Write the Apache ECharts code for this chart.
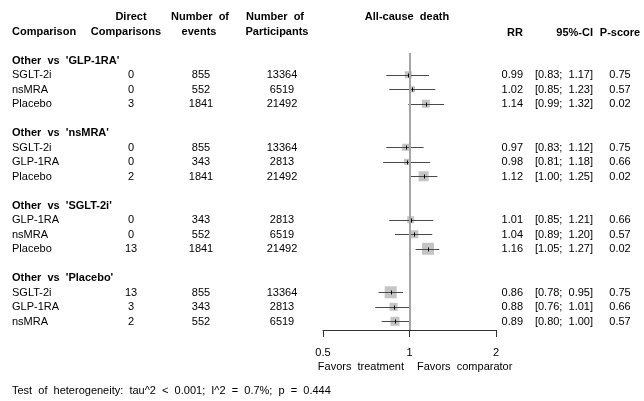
<!DOCTYPE html>
<html>
<head>
<meta charset="utf-8">
<script src="https://cdn.jsdelivr.net/npm/echarts@6/dist/echarts.min.js"></script>
<style>
html,body{margin:0;padding:0;background:#fff;}
#chart{width:644px;height:401px;}
</style>
</head>
<body>
<div id="chart"></div>
<script>
// ---------- DATA ----------
const referenceGroups = ["GLP-1RA", "nsMRA", "SGLT-2i", "Placebo"];
const comparedTreatments = [
  ["SGLT-2i", "nsMRA", "Placebo"],
  ["SGLT-2i", "GLP-1RA", "Placebo"],
  ["GLP-1RA", "nsMRA", "Placebo"],
  ["SGLT-2i", "GLP-1RA", "nsMRA"]
];
const directComparisons = [0, 0, 3, 0, 0, 2, 0, 0, 13, 13, 3, 2];
const numberOfEvents = [855, 552, 1841, 855, 343, 1841, 343, 552, 1841, 855, 343, 552];
const numberOfParticipants = [13364, 6519, 21492, 13364, 2813, 21492, 2813, 6519, 21492, 13364, 2813, 6519];
const rr = [0.99, 1.02, 1.14, 0.97, 0.98, 1.12, 1.01, 1.04, 1.16, 0.86, 0.88, 0.89];
const ciLower = [0.83, 0.85, 0.99, 0.83, 0.81, 1.00, 0.85, 0.89, 1.05, 0.78, 0.76, 0.80];
const ciUpper = [1.17, 1.23, 1.32, 1.12, 1.18, 1.25, 1.21, 1.20, 1.27, 0.95, 1.01, 1.00];
const pScore = [0.75, 0.57, 0.02, 0.75, 0.66, 0.02, 0.66, 0.57, 0.02, 0.75, 0.66, 0.57];
const studyWeight = [7, 6, 8, 7, 6, 10, 7, 8, 12, 12, 8, 9];
const xTickValues = [0.5, 1, 2];
const title = "All-cause death";
const heterogeneityText = "Test of heterogeneity: tau^2 < 0.001; I^2 = 0.7%; p = 0.444";

// ---------- LAYOUT ----------
const FONT = '"Liberation Sans", Arial, sans-serif';
const FS = 11;
// the reference renders word spaces wider than the font's own space
const wide = s => s.replace(/ /g, '  ');

const rows = [];
rows.push({idx: -3, type: 'head1'});
rows.push({idx: -2, type: 'head2'});
let k = 0;
referenceGroups.forEach((g, gi) => {
  const base = gi * 5;
  rows.push({idx: base, type: 'group', label: "Other vs '" + g + "'"});
  comparedTreatments[gi].forEach((t, ti) => {
    rows.push({idx: base + 1 + ti, type: 'data', label: t, k: k});
    k++;
  });
});

const forestData = [];
k = 0;
referenceGroups.forEach((g, gi) => {
  comparedTreatments[gi].forEach((t, ti) => {
    forestData.push([rr[k], ciLower[k], ciUpper[k], gi * 5 + 1 + ti, studyWeight[k]]);
    k++;
  });
});

function txt(x, y, s, align, bold) {
  return {
    type: 'text',
    style: {
      x: x, y: y, text: wide(s), fill: '#000',
      font: (bold ? 'bold ' : '') + FS + 'px ' + FONT,
      align: align, verticalAlign: 'middle'
    }
  };
}

const chart = echarts.init(document.getElementById('chart'), null, {renderer: 'canvas'});
chart.setOption({
  animation: false,
  backgroundColor: '#fff',
  grid: {left: 323, right: 148, top: 53, bottom: 71, containLabel: false},
  xAxis: {
    type: 'log', logBase: 2, min: 0.5, max: 2,
    axisLine: {show: true, onZero: false, lineStyle: {color: '#333', width: 1}},
    axisTick: {show: true, length: 7, lineStyle: {color: '#333'}},
    axisLabel: {
      margin: 17, color: '#000', fontSize: FS, fontFamily: FONT,
      formatter: v => {
        const m = xTickValues.find(t => Math.abs(t - v) < 1e-6);
        return m === undefined ? '' : String(m);
      }
    },
    splitLine: {show: false}
  },
  yAxis: {
    type: 'value', inverse: true, min: -0.5, max: 18.6, show: false
  },
  graphic: [
    {type: 'text', left: 12, top: 385, style: {text: wide(heterogeneityText), fill: '#000', font: FS + 'px ' + FONT}},
    {type: 'text', right: 644 - 404, top: 361, style: {text: wide('Favors treatment'), fill: '#000', font: FS + 'px ' + FONT}},
    {type: 'text', left: 417, top: 361, style: {text: wide('Favors comparator'), fill: '#000', font: FS + 'px ' + FONT}}
  ],
  series: [
    {
      type: 'custom',
      data: forestData,
      encode: {x: [0, 1, 2], y: 3},
      clip: false,
      renderItem: (params, api) => {
        const est = api.value(0), lo = api.value(1), hi = api.value(2), r = api.value(3), sz = api.value(4);
        const pE = api.coord([est, r]);
        const pL = api.coord([lo, r]);
        const pH = api.coord([hi, r]);
        const y = Math.round(pE[1]) + 0.5;
        return {
          type: 'group',
          children: [
            {type: 'rect', shape: {x: pE[0] - sz / 2, y: pE[1] - sz / 2, width: sz, height: sz},
             style: {fill: '#c4c4c4'}},
            {type: 'line', shape: {x1: pL[0], y1: y, x2: pH[0], y2: y},
             style: {stroke: '#4a4a4a', lineWidth: 1}},
            {type: 'line', shape: {x1: Math.round(pE[0]) + 0.5, y1: y - 2, x2: Math.round(pE[0]) + 0.5, y2: y + 2},
             style: {stroke: '#000', lineWidth: 1}}
          ]
        };
      },
      markLine: {
        silent: true, symbol: 'none', label: {show: false},
        lineStyle: {color: '#a6a6a6', width: 2, type: 'solid'},
        data: [{xAxis: 1}]
      },
      z: 3
    },
    {
      type: 'custom',
      data: rows.map(r => [1, r.idx]),
      encode: {x: 0, y: 1},
      clip: false,
      silent: true,
      renderItem: (params, api) => {
        const row = rows[params.dataIndex];
        const y = api.coord([1, api.value(1)])[1] + 0.5;
        const ch = [];
        if (row.type === 'head1') {
          ch.push(txt(131, y, 'Direct', 'center', true));
          ch.push(txt(200, y, 'Number of', 'center', true));
          ch.push(txt(275, y, 'Number of', 'center', true));
          ch.push(txt(407, y, title, 'center', true));
        } else if (row.type === 'head2') {
          ch.push(txt(12, y, 'Comparison', 'left', true));
          ch.push(txt(126, y, 'Comparisons', 'center', true));
          ch.push(txt(199, y, 'events', 'center', true));
          ch.push(txt(277, y, 'Participants', 'center', true));
          ch.push(txt(523, y + 1, 'RR', 'right', true));
          ch.push(txt(593, y + 1, '95%-CI', 'right', true));
          ch.push(txt(620, y + 1, 'P-score', 'center', true));
        } else if (row.type === 'group') {
          ch.push(txt(12, y, row.label, 'left', true));
        } else {
          const i = row.k;
          ch.push(txt(12, y, row.label, 'left', false));
          ch.push(txt(131, y, String(directComparisons[i]), 'center', false));
          ch.push(txt(201, y, String(numberOfEvents[i]), 'center', false));
          ch.push(txt(282, y, String(numberOfParticipants[i]), 'center', false));
          ch.push(txt(523, y, rr[i].toFixed(2), 'right', false));
          ch.push(txt(593, y, '[' + ciLower[i].toFixed(2) + '; ' + ciUpper[i].toFixed(2) + ']', 'right', false));
          ch.push(txt(620, y, pScore[i].toFixed(2), 'center', false));
        }
        return {type: 'group', children: ch};
      },
      z: 2
    }
  ]
});
</script>
</body>
</html>
